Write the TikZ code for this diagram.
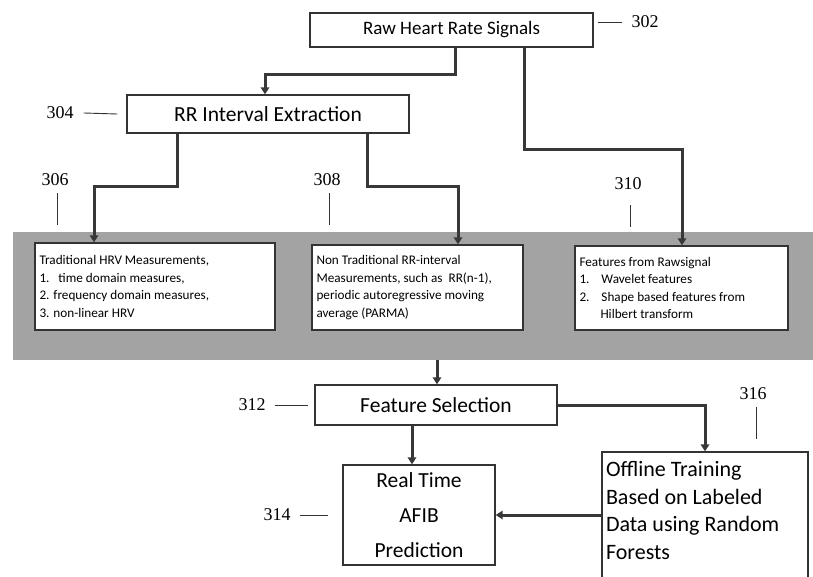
\documentclass[tikz,border=0pt]{standalone}
\usepackage{fontspec}
\setmainfont{Carlito}
\newfontfamily\numfont{Liberation Serif}
\usetikzlibrary{arrows.meta}
\begin{document}
\begin{tikzpicture}[x=1pt,y=-1pt,
  box/.style={draw=black!80, line width=1.4pt, inner sep=2pt, fill=white},
  smallbox/.style={box, font=\fontsize{13.2}{17.5}\selectfont, align=flush left, inner sep=4pt},
  band/.style={fill=black!36, draw=none, inner sep=0pt},
  arr/.style={draw=black!78, line width=3pt, -{Triangle[length=7pt,width=8.5pt]}},
  lead/.style={draw=black!80, line width=0.9pt},
  num/.style={font=\numfont\fontsize{18}{18}\selectfont, inner sep=1pt}
]
\clip (0,0) rectangle (813,577);
\fill[white] (0,0) rectangle (813,577);

% grey band
\node[band, minimum width=800pt, minimum height=128pt] (band) at (413,296) {};

% boxes
\node[box, minimum width=283pt, minimum height=34pt, font=\fontsize{19}{20}\selectfont] (raw) at (451.5,30) {Raw Heart Rate Signals};
\node[box, minimum width=282pt, minimum height=38pt, font=\fontsize{21.5}{22}\selectfont] (rr) at (268,114) {RR Interval Extraction};

\node[smallbox, minimum width=240pt, minimum height=87pt, text width=231pt] (trad) at (155,286.5) {Traditional HRV Measurements,\\1.\ \ \ time domain measures,\\2. frequency domain measures,\\3. non-linear HRV};
\node[smallbox, minimum width=211pt, minimum height=85pt, text width=202pt] (nontrad) at (417.5,287.5) {Non Traditional RR-interval\\Measurements, such as\ \ RR(n-1),\\periodic autoregressive moving\\average (PARMA)};
\node[smallbox, minimum width=213pt, minimum height=84pt, text width=204pt] (feat) at (681.5,288) {Features from Rawsignal\\1.\ \ \ \ Wavelet features\\2.\ \ \ \ Shape based features from\\\hspace*{21pt}Hilbert transform};

\node[box, minimum width=242pt, minimum height=40pt, font=\fontsize{21.5}{22}\selectfont] (fs) at (436,405) {Feature Selection};
\node[box, minimum width=152pt, minimum height=100pt, align=center, font=\fontsize{21.5}{35}\selectfont] (rt) at (419,515) {Real Time\\AFIB\\Prediction};
\node[box, minimum width=206pt, minimum height=138pt, align=flush left, text width=198pt, inner sep=4pt, font=\fontsize{22}{27.5}\selectfont] (off) at (705,521) {Offline Training\\Based on Labeled\\Data using Random\\Forests\\[-6pt]\rule{0pt}{16pt}};

% reference numerals
\node[num] (l302) at (645,22) {302};
\node[num] (l304) at (60,113) {304};
\node[num] (l306) at (55,180) {306};
\node[num] (l308) at (327,180) {308};
\node[num] (l310) at (628,184) {310};
\node[num] (l312) at (252,405) {312};
\node[num] (l314) at (277,515) {314};
\node[num] (l316) at (753,394) {316};

\draw[lead] (598,22) -- ([xshift=-8pt]l302.west);
\draw[lead] (l304.east) ++(9,0) -- ([xshift=-9pt]rr.west);
\draw[lead] (l312.east) ++(8,0) -- ([xshift=-6pt]fs.west);
\draw[lead] (l314.east) ++(8,0) -- ([xshift=-14pt]rt.west);
\draw[lead] (l306.south) ++(2,6) -- ++(0,32);
\draw[lead] (l308.south) ++(2,6) -- ++(0,32);
\draw[lead] (l310.south) ++(2,14) -- ++(0,22);
\draw[lead] (l316.south) ++(3,6) -- ++(0,32);

% connectors
\draw[arr] (raw.south -| 455,0) |- (265,75) -- (rr.north -| 265,0);
\draw[arr] (raw.south -| 524,0) |- (682,150) -- (feat.north -| 682,0);
\draw[arr] (rr.south -| 177,0) |- (94,187) -- (trad.north -| 94,0);
\draw[arr] (rr.south -| 367,0) |- (458,187) -- (nontrad.north -| 458,0);
\draw[arr] (band.south -| 437,0) -- (fs.north -| 437,0);
\draw[arr] (fs.south -| 412,0) -- (rt.north -| 412,0);
\draw[arr] (fs.east) -| (off.north -| 705,0);
\draw[arr] (off.west |- 0,515) -- (rt.east |- 0,515);
\end{tikzpicture}
\end{document}
